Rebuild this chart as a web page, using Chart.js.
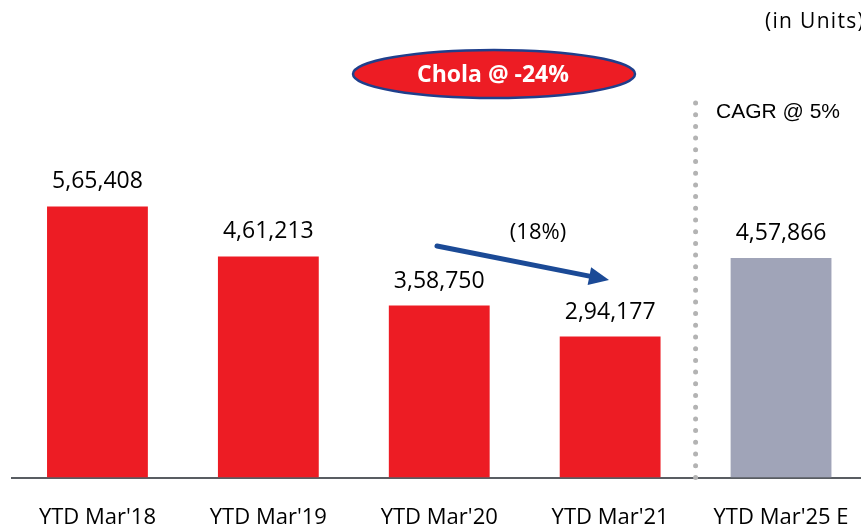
<!DOCTYPE html>
<html>
<head>
<meta charset="utf-8">
<script src="https://cdn.jsdelivr.net/npm/chart.js@4"></script>
<style>
  html, body { margin: 0; padding: 0; background: #fff; overflow: hidden; }
  #wrap { position: relative; width: 876px; height: 558px; }
</style>
</head>
<body>
<div id="wrap"><canvas id="grafico"></canvas></div>
<script>
// data
const categories = ["YTD Mar'18", "YTD Mar'19", "YTD Mar'20", "YTD Mar'21", "YTD Mar'25 E"];
const units = [565408, 461213, 358750, 294177, 457866];
const valueLabels = ['5,65,408', '4,61,213', '3,58,750', '2,94,177', '4,57,866'];

const RED = '#ED1C24';
const GREY = '#A0A4B8';
const barColors = categories.map((c, i) => i === categories.length - 1 ? GREY : RED);

// labels, ellipse, arrow, dotted divider
const extras = {
    id: 'extras',
    afterDatasetsDraw(chart) {
        const ctx = chart.ctx;
        const meta = chart.getDatasetMeta(0);
        const x = chart.scales.x;
        const area = chart.chartArea;
        ctx.save();

        // values above bars
        ctx.fillStyle = '#000';
        ctx.font = '23px "Open Sans"';
        ctx.textAlign = 'center';
        ctx.textBaseline = 'alphabetic';
        meta.data.forEach((bar, i) => {
            ctx.fillText(valueLabels[i], bar.x, bar.y - 18);
        });

        // dotted divider
        const dx = (x.getPixelForValue(3) + x.getPixelForValue(4)) / 2;
        ctx.strokeStyle = '#b3b3b3';
        ctx.lineWidth = 5;
        ctx.lineCap = 'round';
        ctx.setLineDash([0, 11.7]);
        ctx.beginPath();
        ctx.moveTo(dx, 103);
        ctx.lineTo(dx, area.bottom);
        ctx.stroke();
        ctx.setLineDash([]);

        // CAGR text
        ctx.font = '21px "Liberation Sans"';
        ctx.textAlign = 'left';
        ctx.textBaseline = 'middle';
        ctx.fillText('CAGR @ 5%', 716, 112);

        // (in Units)
        ctx.font = '21px "Open Sans"';
        ctx.letterSpacing = '1.3px';
        ctx.fillText('(in Units)', 765, 22);
        ctx.letterSpacing = '0px';

        // Chola ellipse
        ctx.beginPath();
        ctx.ellipse(494, 74, 141, 24, 0, 0, Math.PI * 2);
        ctx.fillStyle = RED;
        ctx.fill();
        ctx.lineWidth = 2.5;
        ctx.strokeStyle = '#1F3F8C';
        ctx.stroke();
        ctx.fillStyle = '#fff';
        ctx.font = 'bold 23px "Open Sans"';
        ctx.textAlign = 'center';
        ctx.fillText('Chola @ -24%', 493, 75);

        // arrow
        const x0 = 437, y0 = 246, x1 = 609, y1 = 280;
        const ang = Math.atan2(y1 - y0, x1 - x0);
        const hl = 20, hw = 9;
        const bx = x1 - hl * Math.cos(ang), by = y1 - hl * Math.sin(ang);
        ctx.strokeStyle = '#1B4A96';
        ctx.fillStyle = '#1B4A96';
        ctx.lineWidth = 5;
        ctx.lineCap = 'round';
        ctx.beginPath();
        ctx.moveTo(x0, y0);
        ctx.lineTo(bx, by);
        ctx.stroke();
        ctx.beginPath();
        ctx.moveTo(x1, y1);
        ctx.lineTo(bx + hw * Math.sin(ang), by - hw * Math.cos(ang));
        ctx.lineTo(bx - hw * Math.sin(ang), by + hw * Math.cos(ang));
        ctx.closePath();
        ctx.fill();

        ctx.fillStyle = '#000';
        ctx.font = '22px "Open Sans"';
        ctx.textAlign = 'center';
        ctx.fillText('(18%)', 538, 233);

        ctx.restore();
    }
};

const grafico = document.getElementById('grafico');

const data = {
    labels: categories,
    datasets: [{
        data: units,
        backgroundColor: barColors,
        borderWidth: 0,
        categoryPercentage: 1,
        barPercentage: 0.59
    }]
};

const config = {
    type: 'bar',
    data: data,
    options: {
        responsive: false,
        animation: false,
        layout: {
            padding: { left: 12, right: 4.5, top: 0, bottom: 0 }
        },
        scales: {
            y: {
                display: false,
                min: 0,
                max: 996000
            },
            x: {
                grid: { display: false, drawTicks: false },
                border: { display: true, color: '#595d62', width: 2 },
                ticks: {
                    color: '#000',
                    padding: 27,
                    font: { size: 22, family: 'Open Sans' }
                }
            }
        },
        plugins: {
            legend: { display: false },
            tooltip: { enabled: false },
            title: { display: false }
        }
    },
    plugins: [extras]
};

// canvas bigger than the window so the tick padding fits; overflow is cut off
grafico.width = 876;
grafico.height = 558;
const grafico_1 = new Chart(grafico, config);
</script>
</body>
</html>
